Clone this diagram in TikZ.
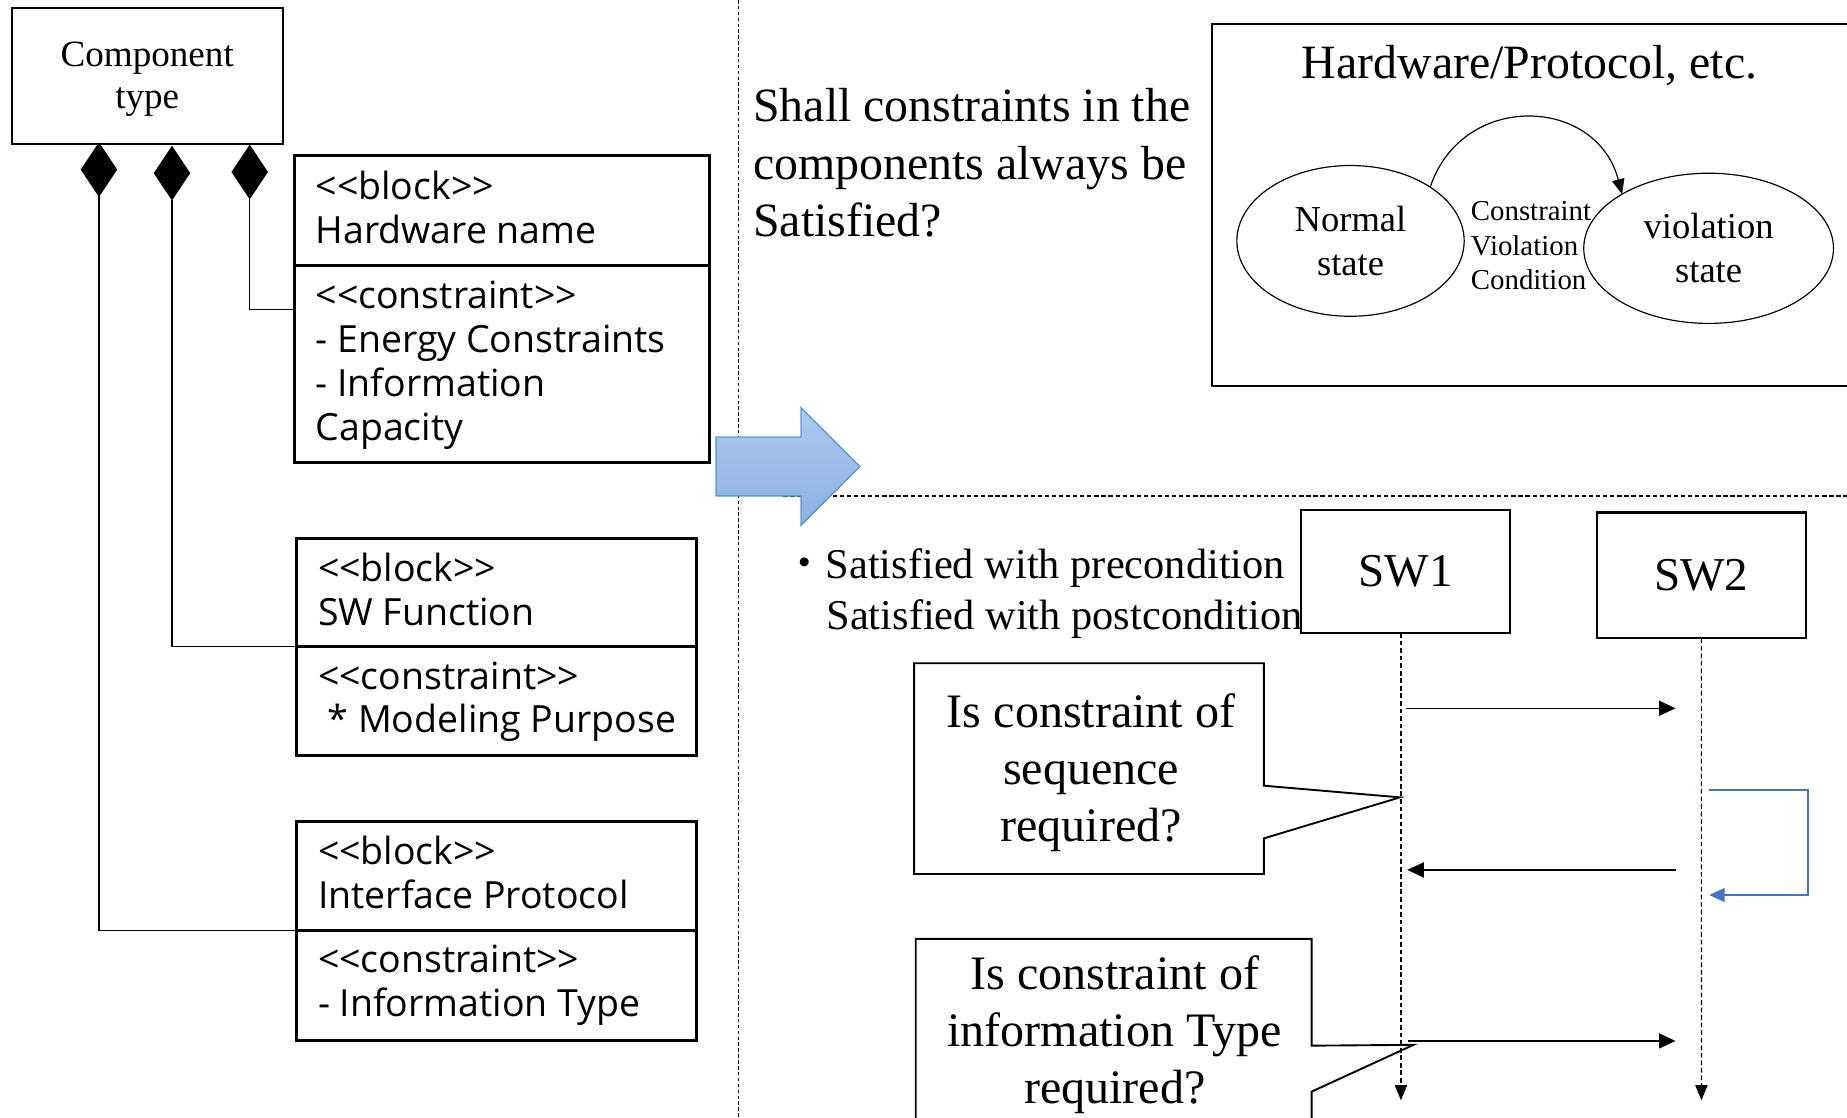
\documentclass[tikz,border=0pt]{standalone}
\usepackage{fontspec}
\setmainfont{Liberation Serif}
\newfontfamily\blockfont{Open Sans}
\newfontfamily\cjkfont{Noto Sans CJK JP}
\usetikzlibrary{arrows.meta,shapes.geometric}

\definecolor{arrowtop}{HTML}{ADC9EE}
\definecolor{arrowbot}{HTML}{8CB1E1}
\definecolor{arrowedge}{HTML}{5B9BD5}
\definecolor{selfblue}{HTML}{4472C4}

\begin{document}
\begin{tikzpicture}[x=0.5pt,y=-0.5pt,
  every node/.style={inner sep=0pt, outer sep=0pt},
  typebox/.style={draw, line width=0.8pt, rectangle},
  blockbox/.style={draw, line width=1.3pt, rectangle},
  divider/.style={line width=1.3pt},
  comp/.style={diamond, fill=black, draw=black, line width=0.4pt,
    minimum width=15pt, minimum height=22.5pt},
  link/.style={line width=0.5pt},
  btxt/.style={anchor=base west, font=\blockfont\fontsize{15.9}{19}\selectfont},
  ctxt/.style={anchor=base, font=\fontsize{15.75}{18}\selectfont},
  bigtxt/.style={anchor=base west, font=\fontsize{20.3}{24}\selectfont},
  state/.style={ellipse, draw, line width=0.5pt, align=center,
    font=\fontsize{15.5}{18.8}\selectfont},
  cvtxt/.style={anchor=base west, font=\fontsize{12.25}{14.7}\selectfont},
  calloutbox/.style={draw, fill=white, line width=0.8pt, line join=miter},
  calltxt/.style={anchor=base, font=\fontsize{20.4}{24}\selectfont},
  swbox/.style={draw, line width=1.0pt, rectangle, font=\fontsize{20}{24}\selectfont},
  lifeline/.style={line width=0.5pt, dash pattern=on 2pt off 1.2pt,
    -{Triangle[length=6.4pt,width=5.2pt]}},
  msg/.style={line width=0.6pt, -{Triangle[length=7pt,width=6.4pt]}},
  selfmsg/.style={line width=0.6pt, draw=selfblue,
    -{Triangle[length=6.5pt,width=5.8pt,fill=selfblue]}},
  satxt/.style={anchor=base west, font=\fontsize{18}{21.5}\selectfont}
]
\useasboundingbox (0,0) rectangle (1568,949);
\clip (0,0) rectangle (1568,949);

% separators between the panels
\draw[line width=0.45pt, dash pattern=on 1.5pt off 1pt] (627,0) -- (627,949);
\draw[line width=0.7pt, dash pattern=on 1.8pt off 1.2pt] (665,421) -- (1568,421);

% ---------- composition of the component type ----------
\node[typebox, minimum width=115pt, minimum height=57.5pt] (ctype) at (125,64.5) {};
\node[ctxt] (ctype1) at (125,56.6) {Component};
\node[ctxt] (ctype2) at (125,92) {type};

\node[comp] (d1) at (84,144) {};
\node[comp] (d2) at (146,147) {};
\node[comp] (d3) at (212,146) {};

% hardware block
\node[blockbox, minimum width=176pt, minimum height=130.5pt] (hw) at (426,262.5) {};
\draw[divider] (250,225) -- (602,225);
\node[btxt] (hw1) at (268,169) {<<block>>};
\node[btxt] (hw2) at (268,207) {Hardware name};
\node[btxt] (hw3) at (268,261.7) {<<constraint>>};
\node[btxt] (hw4) at (268,299) {- Energy Constraints};
\node[btxt] (hw5) at (268,336.7) {- Information};
\node[btxt] (hw6) at (268,374) {Capacity};

% software function block
\node[blockbox, minimum width=169.5pt, minimum height=92pt] (swf) at (421.5,549) {};
\draw[divider] (252,549) -- (591,549);
\node[btxt] (swf1) at (270,494) {<<block>>};
\node[btxt] (swf2) at (270,531) {SW Function};
\node[btxt] (swf3) at (270,585) {<<constraint>>};
\node[btxt] (swf4) at (270,622) {\ * Modeling Purpose};

% interface protocol block
\node[blockbox, minimum width=169.5pt, minimum height=93pt] (ifp) at (421.5,790) {};
\draw[divider] (252,790) -- (591,790);
\node[btxt] (ifp1) at (270,734) {<<block>>};
\node[btxt] (ifp2) at (270,771) {Interface Protocol};
\node[btxt] (ifp3) at (270,826) {<<constraint>>};
\node[btxt] (ifp4) at (270,863) {- Information Type};

\draw[link] (d3.south) |- (hw.west);
\draw[link] (d2.south) |- (swf.west);
\draw[link] (d1.south) |- (ifp.west);

% big block arrow
\shade[top color=arrowtop, bottom color=arrowbot, draw=arrowedge, line width=0.6pt]
  (608,371) -- (680,371) -- (680,346) -- (730,396) -- (680,446) -- (680,421) -- (608,421) -- cycle;

% ---------- question ----------
\node[bigtxt] (q1) at (639.5,103.3) {Shall constraints in the};
\node[bigtxt] (q2) at (639.5,152) {components always be};
\node[bigtxt] (q3) at (639.5,200.9) {Satisfied?};

% ---------- state machine ----------
\draw[line width=0.9pt] (1580,20) -| (1029,327.7) -- (1580,327.7);
\node[anchor=base, font=\fontsize{20.3}{24}\selectfont] (hwtitle) at (1298.6,66.5) {Hardware/Protocol, etc.};
\node[state, minimum width=96.5pt, minimum height=64pt] (ns) at (1146.5,204.5) {Normal\\state};
\node[state, minimum width=106pt, minimum height=63.75pt] (vs) at (1450.5,210.8) {violation\\state};
\draw[line width=0.5pt, -{Triangle[length=6.4pt,width=5.3pt]}]
  (ns.34) .. controls (1241.3,77.2) and (1355.4,81.5) .. (vs.148);
\node[cvtxt] (cv1) at (1248.7,186.8) {Constraint};
\node[cvtxt] (cv2) at (1248.7,216.5) {Violation};
\node[cvtxt] (cv3) at (1248.7,245.6) {Condition};

% ---------- sequence ----------
\draw[calloutbox] (1073,667) -- (1073,563) -- (776,563) -- (776,742) -- (1073,742)
  -- (1073,711.7) -- (1188.5,676.9) -- cycle;
\node[calltxt] (c11) at (926.3,618) {Is constraint of};
\node[calltxt] (c12) at (926.3,666.4) {sequence};
\node[calltxt] (c13) at (926.3,714.5) {required?};

\draw[calloutbox] (1113.5,887.7) -- (1113.5,797) -- (777.4,797) -- (777.4,970)
  -- (1113.5,970) -- (1113.5,926.7) -- (1200,887) -- cycle;
\node[calltxt] (c21) at (946.5,840.4) {Is constraint of};
\node[calltxt] (c22) at (946,888.8) {information Type};
\node[calltxt] (c23) at (946.5,937.2) {required?};

\node[swbox, minimum width=88.75pt, minimum height=52.25pt] (sw1) at (1193.25,485.25) {SW1};
\node[swbox, minimum width=88.65pt, minimum height=53.4pt] (sw2) at (1444.35,488.4) {SW2};

\coordinate (l1end) at (1189.3,934);
\coordinate (l2end) at (1444.4,934);
\draw[lifeline] (l1end |- sw1.south) -- (l1end);
\draw[lifeline] (sw2.south) -- (l2end);

\coordinate (m1a) at (1193.6,601.3);
\coordinate (m1b) at (1422.4,601.3);
\coordinate (m2a) at (1422.4,738.5);
\coordinate (m2b) at (1194.7,738.5);
\coordinate (m3a) at (1195.7,883.7);
\coordinate (m3b) at (1422.4,883.7);
\draw[msg] (m1a) -- (m1b);
\draw[msg] (m2a) -- (m2b);
\draw[msg] (m3a) -- (m3b);

\coordinate (s1a) at (1451,670.6);
\coordinate (s1b) at (1451,759.8);
\draw[selfmsg] (s1a) -- ++(83.8,0) |- (s1b);

\node[satxt] (sat1) at (665,491) {{\cjkfont ・}Satisfied with precondition};
\node[satxt] (sat2) at (701.7,534.8) {Satisfied with postcondition};
\end{tikzpicture}
\end{document}
